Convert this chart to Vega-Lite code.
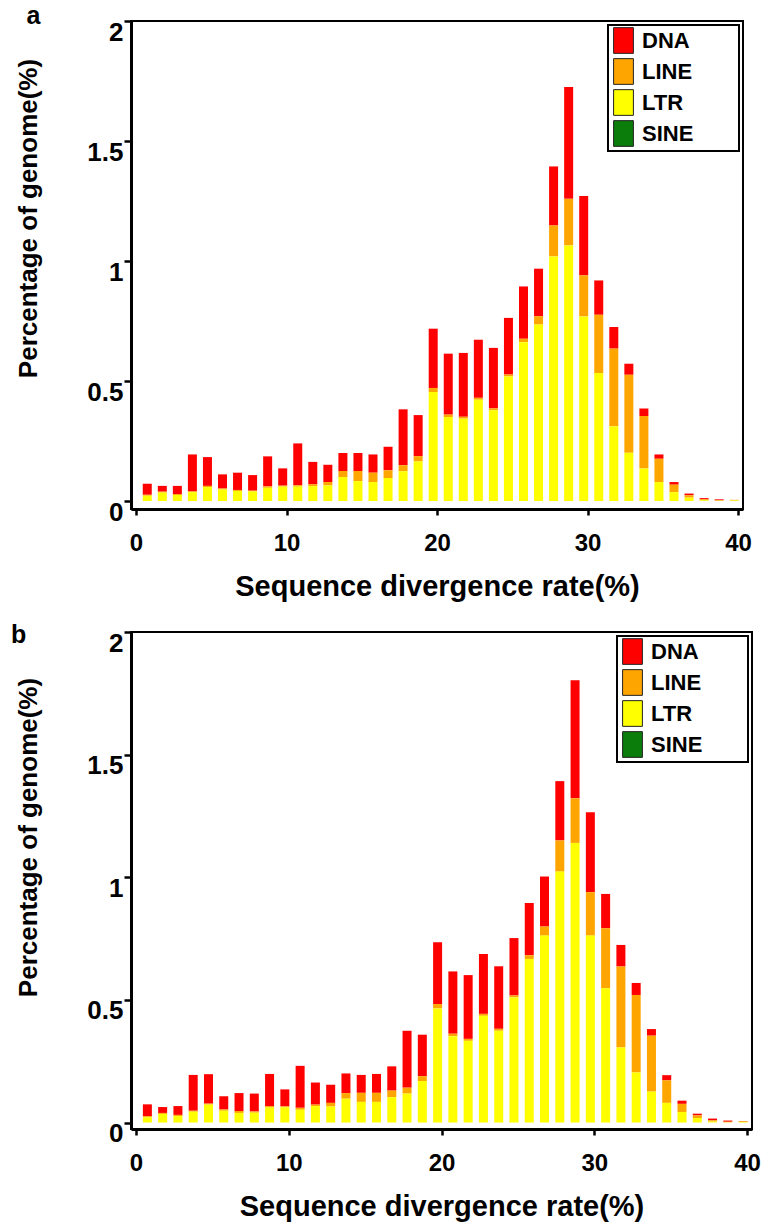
{
  "$schema": "https://vega.github.io/schema/vega-lite/v6.json",
  "background": "white",
  "padding": {"left": 10, "top": 3, "right": 0, "bottom": 0},
  "bounds": "flush",
  "spacing": 123,
  "resolve": {"scale": {"color": "independent"}, "legend": {"color": "independent"}},
  "datasets": {
    "a": [
      {"div": 1, "DNA": 0.046, "LINE": 0.004, "LTR": 0.022},
      {"div": 2, "DNA": 0.024, "LINE": 0.004, "LTR": 0.035},
      {"div": 3, "DNA": 0.034, "LINE": 0.004, "LTR": 0.025},
      {"div": 4, "DNA": 0.154, "LINE": 0.003, "LTR": 0.037},
      {"div": 5, "DNA": 0.120, "LINE": 0.005, "LTR": 0.058},
      {"div": 6, "DNA": 0.059, "LINE": 0.004, "LTR": 0.048},
      {"div": 7, "DNA": 0.072, "LINE": 0.004, "LTR": 0.042},
      {"div": 8, "DNA": 0.065, "LINE": 0.003, "LTR": 0.040},
      {"div": 9, "DNA": 0.125, "LINE": 0.006, "LTR": 0.055},
      {"div": 10, "DNA": 0.072, "LINE": 0.004, "LTR": 0.060},
      {"div": 11, "DNA": 0.174, "LINE": 0.006, "LTR": 0.060},
      {"div": 12, "DNA": 0.093, "LINE": 0.008, "LTR": 0.062},
      {"div": 13, "DNA": 0.072, "LINE": 0.014, "LTR": 0.065},
      {"div": 14, "DNA": 0.075, "LINE": 0.025, "LTR": 0.100},
      {"div": 15, "DNA": 0.075, "LINE": 0.042, "LTR": 0.083},
      {"div": 16, "DNA": 0.076, "LINE": 0.039, "LTR": 0.079},
      {"div": 17, "DNA": 0.098, "LINE": 0.032, "LTR": 0.096},
      {"div": 18, "DNA": 0.233, "LINE": 0.025, "LTR": 0.124},
      {"div": 19, "DNA": 0.171, "LINE": 0.022, "LTR": 0.165},
      {"div": 20, "DNA": 0.247, "LINE": 0.017, "LTR": 0.454},
      {"div": 21, "DNA": 0.254, "LINE": 0.010, "LTR": 0.350},
      {"div": 22, "DNA": 0.266, "LINE": 0.008, "LTR": 0.343},
      {"div": 23, "DNA": 0.242, "LINE": 0.008, "LTR": 0.422},
      {"div": 24, "DNA": 0.252, "LINE": 0.008, "LTR": 0.378},
      {"div": 25, "DNA": 0.236, "LINE": 0.008, "LTR": 0.519},
      {"div": 26, "DNA": 0.218, "LINE": 0.014, "LTR": 0.662},
      {"div": 27, "DNA": 0.198, "LINE": 0.035, "LTR": 0.735},
      {"div": 28, "DNA": 0.246, "LINE": 0.129, "LTR": 1.019},
      {"div": 29, "DNA": 0.466, "LINE": 0.194, "LTR": 1.065},
      {"div": 30, "DNA": 0.331, "LINE": 0.171, "LTR": 0.769},
      {"div": 31, "DNA": 0.143, "LINE": 0.243, "LTR": 0.533},
      {"div": 32, "DNA": 0.090, "LINE": 0.324, "LTR": 0.311},
      {"div": 33, "DNA": 0.046, "LINE": 0.325, "LTR": 0.201},
      {"div": 34, "DNA": 0.031, "LINE": 0.219, "LTR": 0.135},
      {"div": 35, "DNA": 0.018, "LINE": 0.097, "LTR": 0.079},
      {"div": 36, "DNA": 0.011, "LINE": 0.031, "LTR": 0.037},
      {"div": 37, "DNA": 0.007, "LINE": 0.010, "LTR": 0.014},
      {"div": 38, "DNA": 0.005, "LINE": 0.004, "LTR": 0.003},
      {"div": 39, "DNA": 0.004, "LINE": 0.002, "LTR": 0.001},
      {"div": 40, "DNA": 0.000, "LINE": 0.003, "LTR": 0.002}
    ],
    "b": [
      {"div": 1, "DNA": 0.048, "LINE": 0.005, "LTR": 0.021},
      {"div": 2, "DNA": 0.024, "LINE": 0.004, "LTR": 0.035},
      {"div": 3, "DNA": 0.036, "LINE": 0.005, "LTR": 0.026},
      {"div": 4, "DNA": 0.146, "LINE": 0.004, "LTR": 0.044},
      {"div": 5, "DNA": 0.120, "LINE": 0.004, "LTR": 0.073},
      {"div": 6, "DNA": 0.054, "LINE": 0.005, "LTR": 0.048},
      {"div": 7, "DNA": 0.073, "LINE": 0.008, "LTR": 0.039},
      {"div": 8, "DNA": 0.073, "LINE": 0.005, "LTR": 0.040},
      {"div": 9, "DNA": 0.131, "LINE": 0.006, "LTR": 0.061},
      {"div": 10, "DNA": 0.069, "LINE": 0.004, "LTR": 0.062},
      {"div": 11, "DNA": 0.171, "LINE": 0.008, "LTR": 0.052},
      {"div": 12, "DNA": 0.090, "LINE": 0.006, "LTR": 0.067},
      {"div": 13, "DNA": 0.074, "LINE": 0.015, "LTR": 0.065},
      {"div": 14, "DNA": 0.080, "LINE": 0.023, "LTR": 0.097},
      {"div": 15, "DNA": 0.073, "LINE": 0.037, "LTR": 0.084},
      {"div": 16, "DNA": 0.077, "LINE": 0.037, "LTR": 0.084},
      {"div": 17, "DNA": 0.099, "LINE": 0.027, "LTR": 0.103},
      {"div": 18, "DNA": 0.232, "LINE": 0.024, "LTR": 0.118},
      {"div": 19, "DNA": 0.169, "LINE": 0.020, "LTR": 0.169},
      {"div": 20, "DNA": 0.252, "LINE": 0.018, "LTR": 0.465},
      {"div": 21, "DNA": 0.254, "LINE": 0.010, "LTR": 0.352},
      {"div": 22, "DNA": 0.260, "LINE": 0.008, "LTR": 0.333},
      {"div": 23, "DNA": 0.244, "LINE": 0.008, "LTR": 0.435},
      {"div": 24, "DNA": 0.255, "LINE": 0.008, "LTR": 0.374},
      {"div": 25, "DNA": 0.234, "LINE": 0.008, "LTR": 0.510},
      {"div": 26, "DNA": 0.213, "LINE": 0.015, "LTR": 0.667},
      {"div": 27, "DNA": 0.204, "LINE": 0.037, "LTR": 0.762},
      {"div": 28, "DNA": 0.242, "LINE": 0.127, "LTR": 1.023},
      {"div": 29, "DNA": 0.481, "LINE": 0.182, "LTR": 1.140},
      {"div": 30, "DNA": 0.326, "LINE": 0.177, "LTR": 0.762},
      {"div": 31, "DNA": 0.140, "LINE": 0.245, "LTR": 0.547},
      {"div": 32, "DNA": 0.088, "LINE": 0.330, "LTR": 0.306},
      {"div": 33, "DNA": 0.049, "LINE": 0.316, "LTR": 0.204},
      {"div": 34, "DNA": 0.027, "LINE": 0.228, "LTR": 0.126},
      {"div": 35, "DNA": 0.021, "LINE": 0.092, "LTR": 0.080},
      {"div": 36, "DNA": 0.013, "LINE": 0.033, "LTR": 0.043},
      {"div": 37, "DNA": 0.007, "LINE": 0.011, "LTR": 0.018},
      {"div": 38, "DNA": 0.007, "LINE": 0.005, "LTR": 0.004},
      {"div": 39, "DNA": 0.005, "LINE": 0.002, "LTR": 0.001},
      {"div": 40, "DNA": 0.001, "LINE": 0.003, "LTR": 0.002}
    ]
  },
  "config": {
    "font": "Liberation Sans",
    "view": {"stroke": "black", "strokeWidth": 2},
    "axis": {
      "grid": false,
      "domainColor": "black",
      "domainWidth": 3,
      "tickColor": "black",
      "tickWidth": 2.5,
      "labelColor": "black",
      "labelFontWeight": "bold",
      "labelFlush": false,
      "titleColor": "black",
      "titleFontWeight": "bold"
    },
    "legend": {
      "title": null,
      "orient": "top-right",
      "offset": 4,
      "padding": 2,
      "strokeColor": "black",
      "strokeWidth": 2,
      "symbolType": "M-0.77,-1H0.77V1H-0.77Z",
      "symbolSize": 660,
      "symbolStrokeColor": "#222222",
      "symbolStrokeWidth": 1,
      "labelFont": "Liberation Sans",
      "labelFontSize": 22,
      "labelFontWeight": "bold",
      "labelColor": "black",
      "labelOffset": 5,
      "labelBaseline": "middle",
      "rowPadding": 0
    },
    "title": {"color": "black", "fontWeight": "bold", "fontSize": 25, "font": "Liberation Sans"}
  },
  "vconcat": [
    {
      "width": 612,
      "height": 488,
      "title": {"text": "a", "anchor": "start", "frame": "group", "orient": "top", "baseline": "alphabetic", "offset": -30, "dx": -104.5},
      "data": {"name": "a"},
      "transform": [{"fold": ["DNA", "LINE", "LTR"], "as": ["type", "pct"]}],
      "mark": {"type": "bar", "width": 9, "xOffset": -3.8},
      "encoding": {
        "x": {
          "field": "div", "type": "quantitative",
          "scale": {"domain": [0, 40], "nice": false},
          "axis": {"values": [0, 10, 20, 30, 40], "title": "Sequence divergence rate(%)", "tickSize": 6, "labelFontSize": 24, "labelBaseline": "alphabetic", "labelPadding": 35, "titleFontSize": 29, "titleBaseline": "alphabetic", "titleY": 86}
        },
        "y": {
          "field": "pct", "type": "quantitative", "stack": "zero",
          "scale": {"domain": [-0.0333, 2], "nice": false},
          "axis": {"values": [0, 0.5, 1, 1.5, 2], "format": "~g", "title": "Percentage of genome(%)", "tickSize": 7, "labelFontSize": 26, "labelBaseline": "middle", "labelOffset": 11, "labelPadding": 1, "titleFontSize": 26, "titleBaseline": "alphabetic", "titleAngle": -90, "titleAlign": "center", "titleX": -94.5, "titleY": 197}
        },
        "color": {
          "field": "type", "type": "nominal",
          "scale": {"domain": ["DNA", "LINE", "LTR", "SINE"], "range": ["#ff0000", "#ffa500", "#ffff00", "#0b7d0b"]},
          "legend": {"labelExpr": "datum.label + '\u00a0\u00a0\u00a0\u00a0\u00a0\u00a0\u00a0\u200b'"}
        },
        "order": {"field": "type", "sort": "descending"}
      }
    },
    {
      "width": 621,
      "height": 497,
      "title": {"text": "b", "anchor": "start", "frame": "group", "orient": "top", "baseline": "alphabetic", "offset": -38, "dx": -120},
      "data": {"name": "b"},
      "transform": [{"fold": ["DNA", "LINE", "LTR"], "as": ["type", "pct"]}],
      "mark": {"type": "bar", "width": 9, "xOffset": -3.9},
      "encoding": {
        "x": {
          "field": "div", "type": "quantitative",
          "scale": {"domain": [0, 40], "nice": false},
          "axis": {"values": [0, 10, 20, 30, 40], "title": "Sequence divergence rate(%)", "tickSize": 6, "labelFontSize": 24, "labelBaseline": "alphabetic", "labelPadding": 35, "titleFontSize": 29, "titleBaseline": "alphabetic", "titleY": 86}
        },
        "y": {
          "field": "pct", "type": "quantitative", "stack": "zero",
          "scale": {"domain": [-0.0265, 2], "nice": false},
          "axis": {"values": [0, 0.5, 1, 1.5, 2], "format": "~g", "title": "Percentage of genome(%)", "tickSize": 7, "labelFontSize": 26, "labelBaseline": "middle", "labelOffset": 11, "labelPadding": 1, "titleFontSize": 26, "titleBaseline": "alphabetic", "titleAngle": -90, "titleAlign": "center", "titleX": -94.5, "titleY": 205}
        },
        "color": {
          "field": "type", "type": "nominal",
          "scale": {"domain": ["DNA", "LINE", "LTR", "SINE"], "range": ["#ff0000", "#ffa500", "#ffff00", "#0b7d0b"]},
          "legend": {"labelExpr": "datum.label + '\u00a0\u00a0\u00a0\u00a0\u00a0\u00a0\u00a0\u200b'"}
        },
        "order": {"field": "type", "sort": "descending"}
      }
    }
  ]
}
